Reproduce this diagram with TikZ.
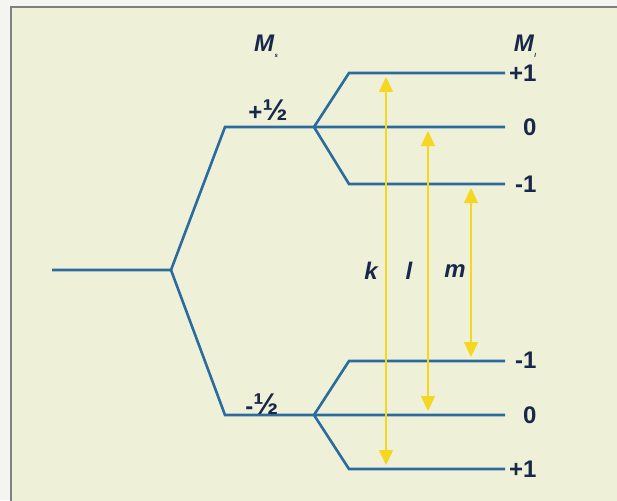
\documentclass[tikz,border=0pt]{standalone}
\usepackage{fontspec}
\setmainfont{Liberation Sans}
\usetikzlibrary{arrows.meta}
\definecolor{bg}{HTML}{EEF0D8}
\definecolor{outer}{HTML}{F4F4F0}
\definecolor{frame}{HTML}{808080}
\definecolor{lvl}{HTML}{2B6B9E}
\definecolor{trans}{HTML}{F5D620}
\definecolor{txt}{HTML}{18284A}
\tikzset{
  level/.style={draw=lvl, line width=2.6pt, line join=miter},
  transarrow/.style={draw=trans, line width=1.4pt, {Triangle[length=15pt,width=14pt]}-{Triangle[length=15pt,width=14pt]}, shorten <=4pt, shorten >=4pt},
  lab/.style={font=\bfseries\fontsize{24}{24}\selectfont, text=txt, inner sep=1pt},
  tl/.style={font=\bfseries\itshape\fontsize{24}{24}\selectfont, text=txt, inner sep=1pt}
}
\begin{document}
\begin{tikzpicture}[x=1pt,y=-1pt]
\useasboundingbox (0,0) rectangle (617,500);
\fill[outer] (0,0) rectangle (617,500);
\fill[frame] (10,6) rectangle (630,510);
\fill[bg] (12,8) rectangle (630,510);
% coordinates
\coordinate (g0) at (52,270);
\coordinate (g1) at (171,270);
\coordinate (a1) at (225,127);
\coordinate (a2) at (314,127);
\coordinate (b1) at (225,415);
\coordinate (b2) at (314,415);
\coordinate (u1s) at (349,73);  \coordinate (u1e) at (505,73);
\coordinate (u0e) at (505,127);
\coordinate (um1s) at (349,184); \coordinate (um1e) at (505,184);
\coordinate (lm1s) at (349,361); \coordinate (lm1e) at (505,361);
\coordinate (l0e) at (505,415);
\coordinate (l1s) at (349,469); \coordinate (l1e) at (505,469);
% levels
\draw[level] (g0) -- (g1) -- (a1) -- (a2) -- (u0e);
\draw[level] (g1) -- (b1) -- (b2) -- (l0e);
\draw[level] (a2) -- (u1s) -- (u1e);
\draw[level] (a2) -- (um1s) -- (um1e);
\draw[level] (b2) -- (lm1s) -- (lm1e);
\draw[level] (b2) -- (l1s) -- (l1e);
% transitions
\coordinate (kt) at (386,73); \coordinate (kb) at (386,469);
\coordinate (lt) at (428,127); \coordinate (lb) at (428,415);
\coordinate (mt) at (471,184); \coordinate (mb) at (471,361);
\draw[transarrow] (kt) -- (kb);
\draw[transarrow] (lt) -- (lb);
\draw[transarrow] (mt) -- (mb);
\node[tl] (k) at (371,271) {k};
\node[tl] (l) at (409,271) {l};
\node[tl] (m) at (455,271) {m};
% labels
\node[lab, anchor=west] (p1) at (508,73) {+1};
\node[lab, anchor=west] (p0) at (522,127) {0};
\node[lab, anchor=west] (pm1) at (514,184) {-1};
\node[lab, anchor=west] (qm1) at (514,360) {-1};
\node[lab, anchor=west] (q0) at (522,415) {0};
\node[lab, anchor=west] (q1) at (508,469) {+1};
\node[lab] (hp) at (268,110) {+{\fontsize{30}{30}\selectfont ½}};
\node[lab] (hm) at (262,404) {-{\fontsize{30}{30}\selectfont ½}};
\node[tl] (ms) at (266,46) {M\kern0.02em\raisebox{-0.45ex}{\fontsize{6}{6}\selectfont s}};
\node[tl] (mi) at (525,46) {M\kern0.02em\raisebox{-0.45ex}{\fontsize{6}{6}\selectfont I}};
\end{tikzpicture}
\end{document}
